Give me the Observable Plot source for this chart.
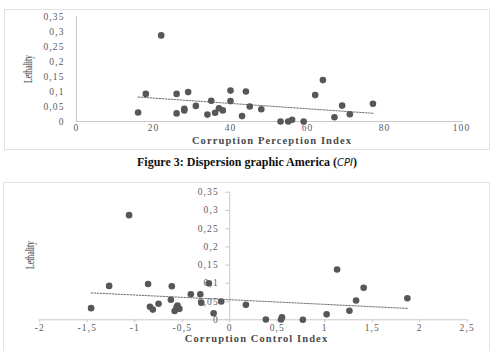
<!DOCTYPE html>
<html>
<head>
<meta charset="utf-8">
<script src="https://cdn.jsdelivr.net/npm/d3@7"></script>
<script src="https://cdn.jsdelivr.net/npm/@observablehq/plot@0.6"></script>
<style>
  html, body { margin: 0; padding: 0; background: #fff; }
  body { width: 494px; height: 351px; position: relative; overflow: hidden; font-family: "Liberation Serif", serif; }
  .box { position: absolute; border: 1px solid #e2e2e2; box-sizing: border-box; background: #fff; }
  .plot { position: absolute; }
  .ylab { position: absolute; font-family: "Liberation Serif", serif; font-size: 12.5px; color: #404040;
          white-space: nowrap; transform: translate(-50%, -50%) rotate(-90deg) scaleX(0.62); }
  .caption { position: absolute; left: 0; width: 494px; text-align: center; font-weight: bold; font-size: 12px; color: #111; }
  .caption i { font-family: "DejaVu Sans", sans-serif; font-weight: normal; font-size: 10px; }
</style>
</head>
<body>
<div class="box" style="left:4px;top:9px;width:486px;height:141px"></div>
<div class="box" style="left:3px;top:182px;width:487px;height:190px"></div>
<div id="top" class="plot" style="left:4px;top:9px"></div>
<div id="bottom" class="plot" style="left:4px;top:183px"></div>
<div class="ylab" style="left:28px;top:69px">Lethality</div>
<div class="ylab" style="left:30px;top:255px">Lethality</div>
<div class="caption" style="top:155px">Figure 3: Dispersion graphic America (<i>CPI</i>)</div>
<script>
// Corruption Perception Index vs. lethality, one value per country
const cpi = [16, 18, 22, 26, 26, 28, 28, 29, 31, 34, 35, 36, 37, 38, 40, 40, 43, 44, 45, 48, 53, 55, 56, 59, 62, 64, 67, 69, 71, 77];
const lethalityCpi = [0.03, 0.092, 0.287, 0.092, 0.027, 0.042, 0.037, 0.098, 0.052, 0.023, 0.069, 0.029, 0.044, 0.037, 0.103, 0.068, 0.018, 0.1, 0.05, 0.041, 0, 0, 0.006, 0, 0.088, 0.138, 0.014, 0.053, 0.024, 0.059];

// Corruption Control Index vs. lethality
const cci = [-1.46, -1.27, -1.06, -0.86, -0.84, -0.81, -0.75, -0.61, -0.62, -0.58, -0.56, -0.53, -0.55, -0.41, -0.31, -0.30, -0.22, -0.17, -0.09, 0.17, 0.38, 0.54, 0.55, 0.77, 1.02, 1.13, 1.26, 1.33, 1.41, 1.87];
const lethalityCci = [0.032, 0.093, 0.287, 0.098, 0.036, 0.028, 0.044, 0.092, 0.055, 0.024, 0.034, 0.03, 0.039, 0.07, 0.07, 0.047, 0.1, 0.018, 0.05, 0.041, 0.001, 0.001, 0.007, 0, 0.015, 0.138, 0.025, 0.053, 0.088, 0.059];

// Axis ticks
const lethalityTicks = [0, 0.05, 0.1, 0.15, 0.2, 0.25, 0.3, 0.35];
const cpiTicks = [0, 20, 40, 60, 80, 100];
const cciTicks = [-2, -1.5, -1, -0.5, 0, 0.5, 1, 1.5, 2, 2.5];

const titleCpi = "Corruption Perception Index";
const titleCci = "Corruption Control Index";

const decimalComma = d => String(d).replace(".", ",");
const rowsCpi = cpi.map((x, i) => ({x, y: lethalityCpi[i]}));
const rowsCci = cci.map((x, i) => ({x, y: lethalityCci[i]}));

const dotColor = "#575757";
const axisColor = "#c8c8c8";
const labelColor = "#5a5a5a";
const titleStyle = {fontSize: 10.5, fontWeight: "bold", fill: "#4a4a4a"};
// wide-tracked serif lettering for all chart text
const chartStyle = {fontFamily: "Liberation Serif, serif", fontSize: "9.5px", letterSpacing: "1.1px", color: labelColor, background: "transparent"};

const topPlot = Plot.plot({
  width: 485, height: 140,
  marginLeft: 72, marginRight: 28, marginTop: 7, marginBottom: 28,
  style: chartStyle,
  x: {domain: [0, 100], label: null},
  y: {domain: [0, 0.35], label: null},
  marks: [
    Plot.ruleY([0], {stroke: axisColor, insetRight: -2}),
    Plot.ruleX([0], {stroke: axisColor}),
    Plot.axisX(cpiTicks, {label: null, tickSize: 0, tickPadding: 3, tickFormat: d => d, fill: labelColor}),
    Plot.axisY(lethalityTicks, {label: null, tickSize: 0, tickPadding: 12, tickFormat: decimalComma, fill: labelColor}),
    Plot.text([titleCpi], {frameAnchor: "bottom", dy: 22, dx: 3, text: d => d, ...titleStyle}),
    Plot.linearRegressionY(rowsCpi, {x: "x", y: "y", ci: 0, stroke: "#6a6a6a", strokeWidth: 1, strokeDasharray: "1.5,1.5"}),
    Plot.dot(rowsCpi, {x: "x", y: "y", r: 3.3, fill: dotColor})
  ]
});
document.getElementById("top").append(topPlot);

const bottomPlot = Plot.plot({
  width: 485, height: 168,
  marginLeft: 35.3, marginRight: 22.3, marginTop: 8.7, marginBottom: 31.7,
  style: chartStyle,
  x: {domain: [-2, 2.5], label: null},
  y: {domain: [0, 0.35], label: null, axis: null},
  marks: [
    Plot.ruleY([0], {stroke: axisColor}),
    Plot.ruleX([0], {stroke: axisColor}),
    Plot.axisX(cciTicks, {label: null, tickSize: 3, tickPadding: 1.5, stroke: axisColor, tickFormat: decimalComma, fill: labelColor}),
    // y axis crosses at x = 0
    Plot.ruleY(lethalityTicks, {x1: 0, x2: 0, insetLeft: -4, stroke: axisColor}),
    Plot.text(lethalityTicks, {x: 0, y: d => d, text: decimalComma, dx: -11, textAnchor: "end", fill: labelColor}),
    Plot.text([titleCci], {frameAnchor: "bottom", dy: 22.5, dx: 3, text: d => d, ...titleStyle}),
    Plot.linearRegressionY(rowsCci, {x: "x", y: "y", ci: 0, stroke: "#6a6a6a", strokeWidth: 1, strokeDasharray: "1.5,1.5"}),
    Plot.dot(rowsCci, {x: "x", y: "y", r: 3.3, fill: dotColor})
  ]
});
document.getElementById("bottom").append(bottomPlot);
</script>
</body>
</html>
